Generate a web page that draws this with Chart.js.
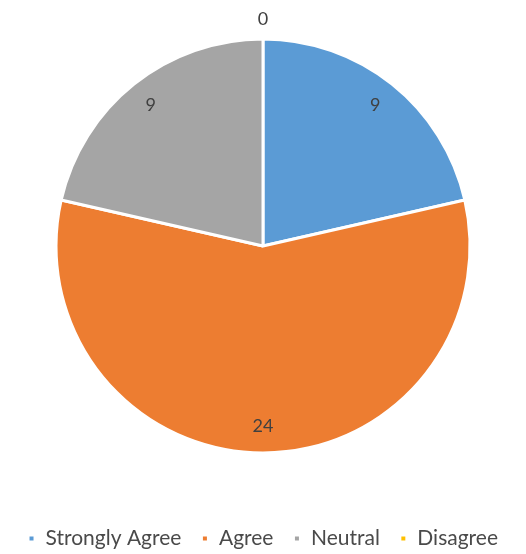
<!DOCTYPE html>
<html>
<head>
<meta charset="utf-8">
<script src="https://cdn.jsdelivr.net/npm/chart.js@4"></script>
<style>
    html, body { margin: 0; padding: 0; background: #fff; }
    #wrap { width: 526px; height: 554px; }
</style>
</head>
<body>
<div id="wrap"><canvas id="pieChart"></canvas></div>
<script>
const categories = ["Strongly Agree", "Agree", "Neutral", "Disagree"];
const responses = [9, 24, 9, 0];
const sliceColors = ["#5B9BD5", "#ED7D31", "#A5A5A5", "#FFC000"];

// Draw the value labels on each slice (zero values go just outside the rim)
const valueLabels = {
    id: "valueLabels",
    afterDatasetsDraw(chart) {
        const ctx = chart.ctx;
        const meta = chart.getDatasetMeta(0);
        ctx.save();
        ctx.font = "18px Lato, 'Open Sans', sans-serif";
        ctx.fillStyle = "#404040";
        ctx.textAlign = "center";
        ctx.textBaseline = "middle";
        meta.data.forEach((arc, i) => {
            const p = arc.getProps(["x", "y", "startAngle", "endAngle", "outerRadius"], true);
            const mid = (p.startAngle + p.endAngle) / 2;
            const dist = responses[i] === 0 ? p.outerRadius + 20 : p.outerRadius * 0.87;
            ctx.fillText(responses[i], p.x + Math.cos(mid) * dist, p.y + Math.sin(mid) * dist);
        });
        ctx.restore();
    }
};

document.addEventListener("DOMContentLoaded", () => {
    const ctx = document.getElementById("pieChart").getContext("2d");
    new Chart(ctx, {
        type: "pie",
        data: {
            labels: categories,
            datasets: [{
                data: responses,
                backgroundColor: sliceColors,
                borderColor: "#ffffff",
                borderWidth: 3,
                radius: 207,
            }],
        },
        options: {
            responsive: true,
            maintainAspectRatio: false,
            animation: false,
            layout: { padding: { top: 0, bottom: -5 } },
            plugins: {
                tooltip: { enabled: false },
                legend: {
                    position: "bottom",
                    title: {
                        display: true,
                        text: "",
                        font: { size: 10 },
                        padding: { top: 4, bottom: 0 },
                    },
                    labels: {
                        boxWidth: 7,
                        boxHeight: 7,
                        padding: 20,
                        color: "#4a4a4a",
                        font: { size: 21, family: "Lato, 'Open Sans', sans-serif" },
                    },
                },
            },
        },
        plugins: [valueLabels],
    });
});
</script>
</body>
</html>
